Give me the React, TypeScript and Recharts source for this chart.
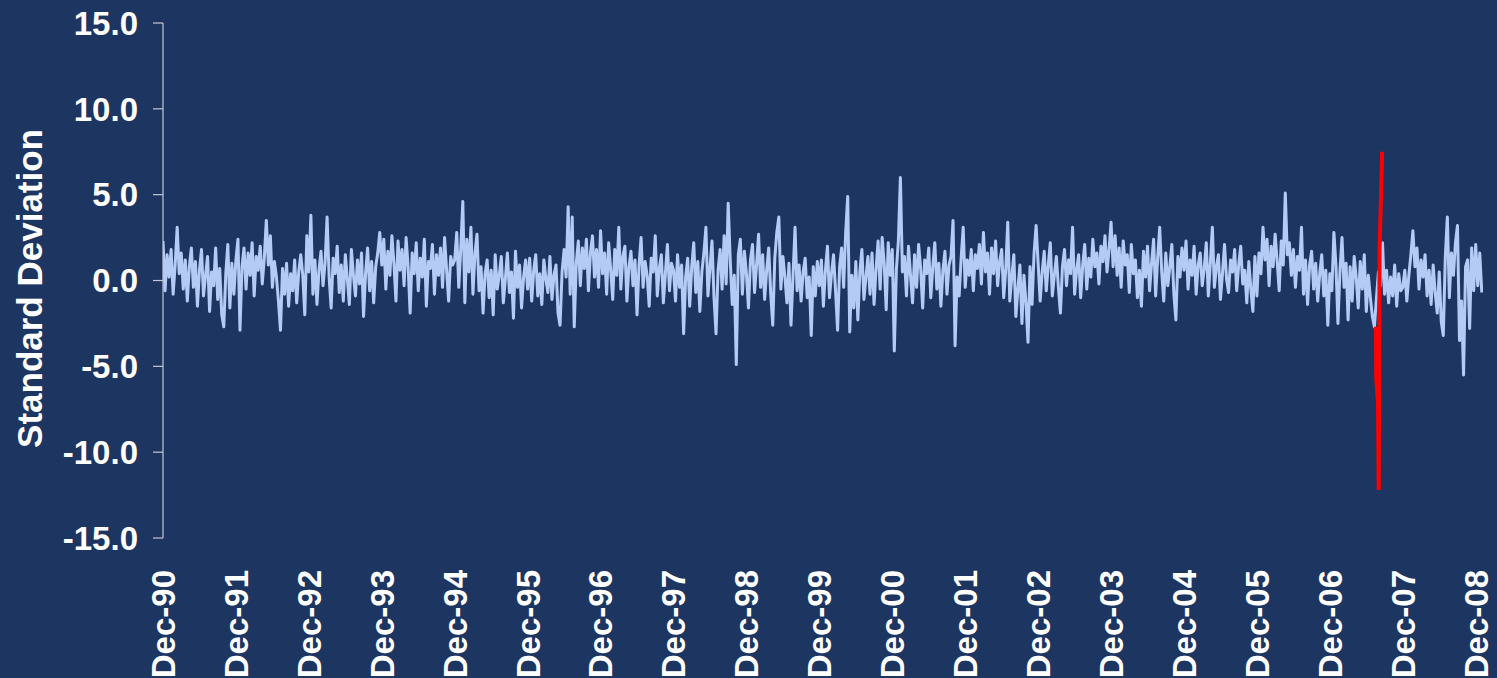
import React from "react";
import { LineChart, Line, XAxis, YAxis, Label } from "recharts";

// colours
const BG = "#1D3561";
const SERIES = "#B4CBF5";
const HIGHLIGHT = "#FF0000";
const AXIS = "#C4C8D0";
const FONT = "'Liberation Sans', Arial, Helvetica, sans-serif";

// x axis labels, one per year (Dec-90 .. Dec-08)
const yearLabels = [
  "Dec-90", "Dec-91", "Dec-92", "Dec-93", "Dec-94", "Dec-95", "Dec-96",
  "Dec-97", "Dec-98", "Dec-99", "Dec-00", "Dec-01", "Dec-02", "Dec-03",
  "Dec-04", "Dec-05", "Dec-06", "Dec-07", "Dec-08",
];
const yTicks = [-15, -10, -5, 0, 5, 10, 15];

// readings per year (approx. every ten days)
const PER_YEAR = 36;

// values, in standard deviations
const y1991 = [2.3, -0.6, 1.5, 0.2, 1.8, -0.8, 0.9, 3.1, 0.4, 1.6, -0.5, 1.2, -1.2, 0.8, 1.9, -0.4, 1.1, -1.5, 0.6, 1.8, -0.9, 0.3, 1.4, -1.8, 0.5, -0.3, 1.9, -1.1, 0.7, -2.0, -2.7, 0.4, 2.1, -1.6, 1.0, -0.8];
const y1992 = [1.2, 2.4, -2.9, 0.8, 1.9, -0.5, 1.6, 0.3, 2.2, -0.9, 1.4, 0.6, 2.0, -0.2, 1.3, 3.5, 0.9, 2.6, -0.4, 1.1, 0.2, -1.2, -2.9, 0.7, -0.8, 1.0, -1.5, 0.4, -0.6, 1.2, -1.3, 0.5, 1.5, 0.3, -2.0, 2.6];
const y1993 = [0.5, 3.8, -0.8, 1.2, -1.4, 0.6, 1.7, -0.3, 1.0, 3.7, 0.2, -1.6, 1.3, 0.4, 2.0, -0.7, 0.9, -1.2, 1.5, 0.1, -1.4, 1.8, 0.3, -0.9, 1.2, -0.2, 1.6, -2.1, 0.4, 1.9, -0.6, 1.1, -1.3, 0.8, 1.6, 2.8];
const y1994 = [0.9, 2.4, -0.5, 1.7, 0.3, 2.6, 1.0, -1.2, 2.3, 0.6, 1.8, -0.3, 2.5, 0.8, -1.9, 1.6, 0.4, 2.2, -0.6, 1.3, 0.2, 2.4, -1.5, 1.1, 0.7, 2.1, -0.8, 1.5, 0.3, 1.9, -0.4, 2.5, 0.6, -1.2, 1.4, 0.9];
const y1995 = [1.2, 2.8, -0.4, 1.9, 4.6, -1.3, 2.4, 0.5, 3.1, -0.8, 1.6, 2.7, -0.6, 0.8, -1.9, 0.4, 1.2, -1.0, 0.6, -2.0, 1.5, -0.5, 0.3, 1.4, -1.3, 0.1, 1.6, -0.7, 0.5, -2.2, 1.7, -0.4, 0.9, -1.6, 0.2, 1.2];
const y1996 = [-0.5, 1.3, -1.2, 0.6, 1.5, -0.9, 0.4, -1.4, 1.2, 0.1, -0.7, 1.4, -1.1, 0.3, 0.9, -1.9, -2.6, 0.5, 1.8, 0.2, 4.3, -0.8, 3.7, -2.7, 1.0, 2.3, -0.3, 1.9, 0.7, 2.4, -0.6, 1.6, 2.6, 0.2, 1.8, -0.4];
const y1997 = [2.9, 0.4, 1.6, -0.8, 2.2, 0.6, -1.1, 1.8, 0.3, 3.1, -0.5, 1.4, 2.0, -1.2, 0.8, 1.7, -0.3, 1.2, -2.0, 0.9, 2.5, -0.4, 1.1, 0.3, -1.5, 1.3, 0.5, 2.6, -0.9, 0.7, 1.5, -1.3, 0.4, 2.1, -0.6, 1.0];
const y1998 = [0.6, -1.2, 1.5, -0.4, 0.9, -3.1, 0.2, 1.3, -1.5, 0.8, 2.2, -0.7, 1.1, -1.8, 0.5, 1.6, 3.1, -0.9, 0.7, 2.3, -1.0, -3.1, 0.6, 1.8, -0.5, 2.6, -0.2, 4.5, 1.2, -1.4, 0.3, -4.9, 1.5, 2.4, -0.8, 1.7];
const y1999 = [0.4, -1.6, 1.2, 2.1, -0.7, 0.9, 2.7, -0.4, 1.5, -1.1, 0.6, 1.9, -0.8, -2.6, 1.3, 2.8, 3.7, -0.5, 1.4, 0.2, -1.3, 1.0, -2.6, 0.3, 3.1, -0.6, 0.9, -1.2, 0.5, 1.3, -1.0, 0.2, -3.2, 0.8, -0.9, 1.1];
const y2000 = [-0.3, 1.2, -1.5, 0.6, 2.0, -1.0, 0.4, 1.5, -0.6, -2.9, 0.8, 1.9, -0.4, 2.8, 4.9, -3.0, 0.3, -1.6, 1.1, -2.3, 0.5, 1.8, -1.1, 0.2, 1.4, -0.8, 1.6, -1.4, 0.7, 2.3, -0.5, 2.5, 1.0, -1.7, 2.2, 0.3];
const y2001 = [1.8, -4.1, 0.6, 2.3, 6.0, 0.5, 1.4, -0.9, 2.0, 0.3, -1.3, 1.5, -0.4, 2.1, 0.7, -1.6, 1.2, 0.4, 1.9, -1.0, 0.8, 2.2, -0.5, 1.0, -1.5, 0.6, 1.7, -0.8, 0.9, 1.4, 3.5, -3.8, 0.2, -0.9, 1.3, 3.1];
const y2002 = [-0.4, 1.2, 0.3, 1.8, -0.6, 1.5, 0.7, 2.1, -0.2, 2.8, 0.5, 1.6, -0.8, 1.9, 0.4, 2.3, -0.3, 1.1, 1.8, -1.0, 0.6, 3.4, -1.2, 0.2, 1.5, -2.1, -0.5, 0.9, -2.5, 0.3, -1.3, -3.6, 0.8, -1.4, 1.6, 3.2];
const y2003 = [1.0, -1.2, 0.5, 1.7, -0.6, 0.9, 2.2, -0.9, 0.3, 1.4, -0.4, -1.9, 0.8, 1.8, -0.3, 1.2, 0.4, 3.1, -0.8, 0.6, 1.5, -1.0, 0.9, 2.1, -0.5, 1.3, 0.2, 2.4, 0.8, 1.6, -0.2, 2.0, 1.1, 2.6, 0.5, 1.8];
const y2004 = [3.4, 0.8, 2.6, 0.3, 1.9, -0.4, 2.3, 0.9, 1.5, -0.7, 2.1, 0.4, 1.2, -1.0, 0.6, -1.5, 1.7, 0.2, 2.0, -0.6, 1.0, 2.4, -0.9, 1.3, 3.1, 0.5, -1.2, 1.6, -0.3, 0.8, 2.1, -0.8, -2.3, 1.4, 0.2, 1.9];
const y2005 = [0.6, 2.3, -0.5, 1.2, 0.3, 2.0, -0.8, 0.9, 1.6, -0.3, 0.7, 2.2, -0.9, 1.0, 3.1, -0.4, 0.8, 1.5, -1.1, 0.4, 2.1, 0.1, -0.7, 1.2, 0.5, 1.8, -0.6, 0.9, 2.0, -0.2, 0.6, -1.3, 1.1, -0.5, -1.8, 1.4];
const y2006 = [-0.9, 1.6, 0.4, 3.1, 1.2, 2.4, -0.3, 2.0, 0.8, 2.7, 1.1, -0.6, 2.3, 0.9, 5.1, 1.5, 2.2, 0.3, 1.8, -0.4, 1.4, 0.6, 3.1, -0.8, 1.2, -1.4, 0.9, 1.7, -0.5, 1.0, -1.2, 0.4, 1.5, -0.9, 0.6, -2.6];
const y2007 = [0.4, -0.6, 2.8, 0.9, -2.5, 0.6, 2.5, -0.4, 1.0, -2.3, 0.8, -1.2, 1.4, 0.2, -1.6, 1.1, -0.5, 1.5, -1.8, 0.3, -1.0, -2.1, -2.7, -1.0, 0.5, -0.3, 2.2, -0.8, 0.6, -1.3, 0.2, -0.9, 0.9, -1.5, 0.4, -0.6];
const y2008 = [-0.4, 0.6, -1.2, 0.3, 1.5, 2.9, 0.8, 1.9, -0.5, 1.2, 0.2, 1.5, -0.9, 0.6, -1.4, 0.9, -0.7, -1.9, 0.5, -2.4, -3.2, 1.4, 3.7, -1.0, 1.6, 0.3, 2.2, 3.2, -3.5, -1.2, -5.5, 0.8, 1.2, -2.8, 1.9, -0.6, 2.1, -0.3, 1.6, -0.7];

// August 2007 episode (years after Dec-90, value)
const eventTimes = [16.632, 16.636, 16.66, 16.67, 16.682, 16.717];
const eventValues = [-2.7, -5.7, -7.1, -12.2, 1.8, 7.5];

const series = [
  ...y1991, ...y1992, ...y1993, ...y1994, ...y1995, ...y1996, ...y1997,
  ...y1998, ...y1999, ...y2000, ...y2001, ...y2002, ...y2003, ...y2004,
  ...y2005, ...y2006, ...y2007, ...y2008,
];
const data = series.map((v, i) => ({ t: i / PER_YEAR, v }));
const eventData = eventTimes.map((t, i) => ({ t, v: eventValues[i] }));

const XTick = (props: any) => {
  const { x, y, payload } = props;
  return (
    <g transform={`translate(${x},${y})`}>
      <text
        transform="rotate(-90)"
        x={-32}
        dy="0.36em"
        textAnchor="end"
        fill="#fff"
        fontSize={33}
        fontWeight="bold"
        fontFamily={FONT}
      >
        {yearLabels[payload.value]}
      </text>
    </g>
  );
};

const YTitle = (props: any) => {
  const { viewBox } = props;
  const cy = viewBox.y + viewBox.height / 2 + 8;
  return (
    <text
      transform={`translate(${viewBox.x + 29},${cy}) rotate(-90)`}
      textAnchor="middle"
      dy="0.36em"
      fill="#fff"
      fontSize={35}
      fontWeight="bold"
      fontFamily={FONT}
    >
      Standard Deviation
    </text>
  );
};

export default function App() {
  return (
    <div style={{ width: 1497, height: 678, background: BG }}>
      <style>{"body{margin:0}"}</style>
      <LineChart
        width={1497}
        height={678}
        data={data}
        margin={{ top: 23, right: 14, bottom: 0, left: 0 }}
      >
        <XAxis
          type="number"
          dataKey="t"
          domain={[0, 18.1]}
          ticks={yearLabels.map((_, i) => i)}
          interval={0}
          tick={(p: any) => <XTick {...p} />}
          axisLine={false}
          tickLine={false}
          tickSize={0}
          tickMargin={0}
          height={140}
          allowDataOverflow
        />
        <YAxis
          type="number"
          domain={[-15, 15]}
          ticks={yTicks}
          interval={0}
          width={163}
          tickFormatter={(v: number) => v.toFixed(1)}
          tick={{ fill: "#fff", fontSize: 33, fontWeight: "bold", fontFamily: FONT }}
          axisLine={{ stroke: AXIS, strokeWidth: 1.2 }}
          tickLine={{ stroke: AXIS, strokeWidth: 1.2 }}
          tickSize={10}
          tickMargin={15}
        >
          <Label content={<YTitle />} />
        </YAxis>
        <Line
          type="linear"
          dataKey="v"
          stroke={SERIES}
          strokeWidth={3}
          strokeLinejoin="round"
          dot={false}
          isAnimationActive={false}
        />
        <Line
          type="linear"
          data={eventData}
          dataKey="v"
          stroke={HIGHLIGHT}
          strokeWidth={4}
          dot={false}
          isAnimationActive={false}
        />
      </LineChart>
    </div>
  );
}
